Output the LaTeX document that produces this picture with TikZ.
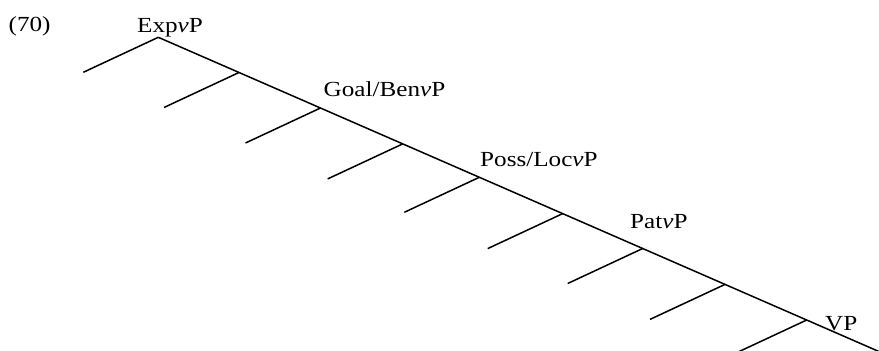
\documentclass[tikz,border=0pt]{standalone}
\usepackage{fontspec}
\usetikzlibrary{calc}
\setmainfont[FakeStretch=1.17]{Liberation Serif}
\begin{document}
\begin{tikzpicture}[x=1pt,y=-1pt,
  branch/.style={line width=1.5pt, line cap=butt},
  lab/.style={inner sep=0pt, anchor=base west, font=\fontsize{21.5}{26}\selectfont}]
\useasboundingbox (0,0) rectangle (879,351);
\clip (0,0) rectangle (879,351);

% points along the right-branching spine
\coordinate (n0) at (158.3,37.3);
\coordinate (n1) at (239.0,72.5);
\coordinate (n2) at (320.5,108.0);
\coordinate (n3) at (402.7,143.9);
\coordinate (n4) at (479.3,177.3);
\coordinate (n5) at (562.7,213.6);
\coordinate (n6) at (642.7,248.5);
\coordinate (n7) at (725.0,284.4);
\coordinate (n8) at (806.7,320.0);
\coordinate (end) at (900.0,360.7);

% free ends of the left branches
\foreach \i in {0,...,8} {
  \coordinate (b\i) at ($(n\i)+(-75,35)$);
}

% spine and left daughters
\draw[branch] (n0) -- (end);
\foreach \i in {0,...,8} {
  \draw[branch] (n\i) -- (b\i);
}

% labels
\node[lab] (ex)   at (8.5,31)     {(70)};
\node[lab] (exp)  at (137,32.5)   {Exp\textit{v}P};
\node[lab] (goal) at (323.5,96.7) {Goal/Ben\textit{v}P};
\node[lab] (poss) at (480,166.7)  {Poss/Loc\textit{v}P};
\node[lab] (pat)  at (630,228.3)  {Pat\textit{v}P};
\node[lab] (vp)   at (825,330)    {VP};
\end{tikzpicture}
\end{document}
